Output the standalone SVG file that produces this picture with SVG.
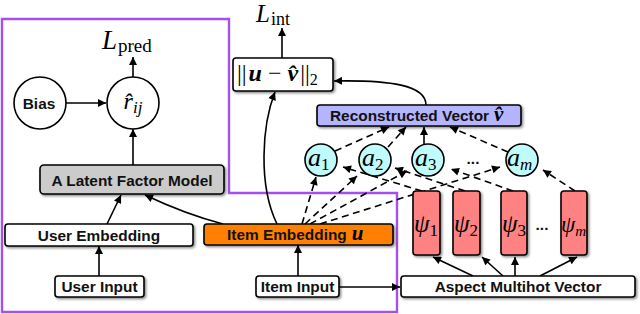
<svg xmlns="http://www.w3.org/2000/svg" width="640" height="314" viewBox="0 0 640 314">
<defs>
<style>
.box{stroke:#000;stroke-width:1.6;filter:url(#sh)}
.lbl{font-family:"Liberation Sans",Arial,sans-serif;font-weight:bold;font-size:15.4px;fill:#111}
.m{font-family:"Liberation Serif","DejaVu Serif","Times New Roman",serif;font-style:italic;fill:#000}
.r{font-family:"Liberation Serif","DejaVu Serif","Times New Roman",serif;font-style:normal;fill:#000}
.c{stroke:#000;stroke-width:1.6;fill:none;marker-end:url(#ah)}
.d{stroke-dasharray:7,4.5}
.circ{stroke:#000;stroke-width:1.6}
</style>
<filter id="sh" x="-10%" y="-20%" width="130%" height="160%">
<feDropShadow dx="1.5" dy="1.5" stdDeviation="1" flood-color="#000" flood-opacity="0.45"/>
</filter>
<marker id="ah" viewBox="0 0 10 10" refX="10" refY="5" markerWidth="10" markerHeight="8" markerUnits="userSpaceOnUse" orient="auto">
<path d="M0,0 L10,5 L0,10 z" fill="#000"/>
</marker>
</defs>
<rect width="640" height="314" fill="#fff"/>

<path id="frame" d="M2,19 H229 V193 H397 V312 H2 Z" fill="none" stroke="#a64ff0" stroke-width="2.4"/>

<g id="connectors">
<path class="c" d="M133,77 L133,57"/>
<path class="c" d="M66,103 L106,103"/>
<path class="c" d="M133,165 L133,129"/>
<path class="c" d="M107,224 L121,195"/>
<path class="c" d="M223,224 Q185,214 145,195"/>
<path class="c" d="M99,276 L99,246"/>
<path class="c" d="M298,276 L298,245"/>
<path class="c" d="M339,287 L400,287"/>
<path class="c" d="M277,224 C258,185 262,125 275,92"/>
<path class="c" d="M282,58 L282,28"/>
<path class="c" d="M426,105 C426,85 390,80 334,81"/>
<path class="c d" d="M335,151 L389,127"/>
<path class="c d" d="M388,147 L406,127"/>
<path class="c" d="M424,144 L424,127"/>
<path class="c d" d="M508,152 L450,127"/>
<path class="c d" d="M302,224 L316,177"/>
<path class="c d" d="M305,224 L357,176"/>
<path class="c d" d="M310,224 L407,171"/>
<path class="c d" d="M320,224 L500,167"/>
<path class="c d" d="M422,191 L343,167"/>
<path class="c d" d="M465,191 L395,168"/>
<path class="c d" d="M513,191 L451,169"/>
<path class="c d" d="M575,191 L543,170"/>
<path class="c" d="M473,276 L433,257"/>
<path class="c" d="M503,276 L482,257"/>
<path class="c" d="M515,276 L515,257"/>
<path class="c" d="M540,276 L577,257"/>
</g>

<g id="L_pred"><text x="102" y="49" class="m" font-size="27">L<tspan class="r" font-size="19" dy="3" dx="1">pred</tspan></text></g>
<g id="L_int"><text x="256" y="22" class="m" font-size="25">L<tspan class="r" font-size="18" dy="3" dx="1">int</tspan></text></g>

<g id="bias"><circle cx="40" cy="103" r="26" fill="#fff" class="circ"/><text x="39" y="108.5" class="lbl" text-anchor="middle">Bias</text></g>
<g id="rhat"><circle cx="133" cy="103" r="26" fill="#fff" class="circ"/>
<text x="133" y="109" class="m" font-size="24" text-anchor="middle">r&#770;<tspan font-size="17" dy="4">ij</tspan></text></g>

<g id="lfm"><rect x="40" y="165" width="184" height="29" rx="4" fill="#cbcbcb" class="box"/><text x="132" y="186" class="lbl" text-anchor="middle">A Latent Factor Model</text></g>

<g id="user_emb"><rect x="5" y="224" width="188" height="22" rx="3" fill="#fff" class="box"/><text x="99" y="240.5" class="lbl" text-anchor="middle">User Embedding</text></g>
<g id="item_emb"><rect x="204" y="224" width="189" height="21" rx="3" fill="#ff8000" class="box"/><text x="227" y="240" class="lbl">Item Embedding<tspan class="m" font-weight="bold" font-size="21" dx="5">u</tspan></text></g>

<g id="user_input"><rect x="55" y="276" width="89" height="21" rx="3" fill="#fff" class="box"/><text x="99.5" y="292" class="lbl" text-anchor="middle">User Input</text></g>
<g id="item_input"><rect x="256" y="276" width="83" height="21" rx="3" fill="#fff" class="box"/><text x="297.5" y="292" class="lbl" text-anchor="middle">Item Input</text></g>
<g id="aspect"><rect x="401" y="276" width="234" height="21" rx="3" fill="#fff" class="box"/><text x="518" y="292" class="lbl" text-anchor="middle">Aspect Multihot Vector</text></g>

<g id="norm"><rect x="233" y="58" width="100" height="33" rx="3" fill="#fff" class="box"/>
<text x="237" y="81" class="r" font-size="24">||<tspan class="m" font-weight="bold" dx="2">u</tspan><tspan dx="6">−</tspan><tspan class="m" font-weight="bold" dx="6">v&#770;</tspan><tspan dx="2">||</tspan><tspan font-size="16" dy="4">2</tspan></text></g>

<g id="recon"><rect x="317" y="105" width="204" height="21" rx="3" fill="#b4b4ff" class="box"/><text x="330" y="121" class="lbl">Reconstructed Vector<tspan class="m" font-weight="bold" font-size="21" dx="5">v&#770;</tspan></text></g>

<g id="a1"><circle cx="321" cy="160" r="16" fill="#c0fafa" class="circ"/><text x="308" y="166" class="m" font-size="26">a<tspan class="r" font-size="17" dy="4">1</tspan></text></g>
<g id="a2"><circle cx="375" cy="160" r="16" fill="#c0fafa" class="circ"/><text x="362" y="166" class="m" font-size="26">a<tspan class="r" font-size="17" dy="4">2</tspan></text></g>
<g id="a3"><circle cx="428" cy="160" r="16" fill="#c0fafa" class="circ"/><text x="415" y="166" class="m" font-size="26">a<tspan class="r" font-size="17" dy="4">3</tspan></text></g>
<text x="473" y="164" class="lbl" text-anchor="middle" font-size="13">...</text>
<g id="am"><circle cx="522" cy="160" r="16" fill="#c0fafa" class="circ"/><text x="507" y="166" class="m" font-size="26">a<tspan font-size="17" dy="4">m</tspan></text></g>

<g id="psi1"><rect x="413" y="191" width="27" height="64" rx="3" fill="#ff8282" class="box"/><text x="414" y="232" class="m" font-size="25">ψ<tspan class="r" font-size="17" dy="4">1</tspan></text></g>
<g id="psi2"><rect x="453" y="191" width="27" height="64" rx="3" fill="#ff8282" class="box"/><text x="454" y="232" class="m" font-size="25">ψ<tspan class="r" font-size="17" dy="4">2</tspan></text></g>
<g id="psi3"><rect x="501" y="191" width="26" height="64" rx="3" fill="#ff8282" class="box"/><text x="502" y="232" class="m" font-size="25">ψ<tspan class="r" font-size="17" dy="4">3</tspan></text></g>
<text x="542" y="230" class="lbl" text-anchor="middle" font-size="13">...</text>
<g id="psim"><rect x="561" y="191" width="26" height="64" rx="3" fill="#ff8282" class="box"/><text x="561" y="232" class="m" font-size="23">ψ<tspan font-size="15" dy="4">m</tspan></text></g>
</svg>
